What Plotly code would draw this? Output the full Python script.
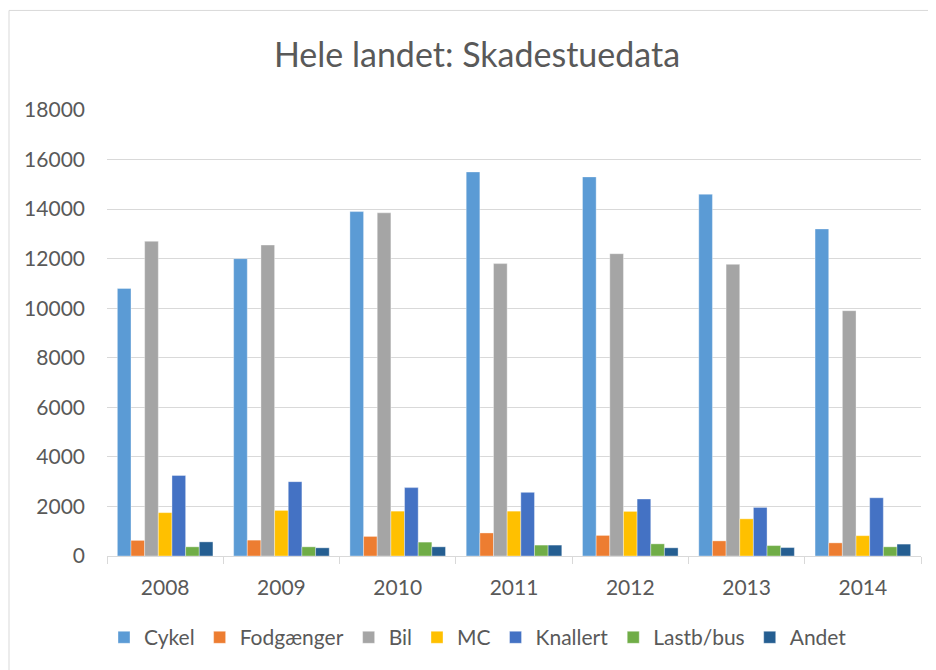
import plotly.graph_objects as go

years = ["2008", "2009", "2010", "2011", "2012", "2013", "2014"]
series_names = ["Cykel", "Fodgænger", "Bil", "MC", "Knallert", "Lastb/bus", "Andet"]
cykel = [10800, 12000, 13900, 15500, 15300, 14600, 13200]
fodgaenger = [630, 640, 790, 930, 830, 610, 530]
bil = [12700, 12550, 13850, 11800, 12200, 11770, 9900]
mc = [1750, 1840, 1810, 1810, 1800, 1500, 820]
knallert = [3250, 3000, 2760, 2570, 2300, 1960, 2350]
lastb_bus = [370, 370, 560, 440, 490, 420, 370]
andet = [570, 330, 370, 440, 330, 340, 480]
y_ticks = [0, 2000, 4000, 6000, 8000, 10000, 12000, 14000, 16000, 18000]

values = [cykel, fodgaenger, bil, mc, knallert, lastb_bus, andet]
colors = ["#5B9BD5", "#ED7D31", "#A5A5A5", "#FFC000", "#4472C4", "#70AD47", "#255E91"]

# page body has an 8px margin, so the figure is laid out 8px in from the window
OFF = 8
W, H = 936 - OFF, 670 - OFF
ml, mr, mt, mb = 107 - OFF, 15, 102, 112

fig = go.Figure()
for name, vals, col in zip(series_names, values, colors):
    fig.add_trace(go.Bar(x=years, y=vals, name=name,
                         marker=dict(color=col, line=dict(color="rgba(255,255,255,0.6)", width=0.6))))

pw = W - ml - mr
ph = H - mt - mb
def px_to_paper_x(x):
    return (x - OFF - ml) / pw
def px_to_paper_y(y):
    return (H - mb - (y - OFF)) / ph

fig.add_shape(type="rect", xref="paper", yref="paper",
              x0=px_to_paper_x(9), x1=px_to_paper_x(960),
              y0=px_to_paper_y(700), y1=px_to_paper_y(10),
              line=dict(color="#D9D9D9", width=1), fillcolor="rgba(0,0,0,0)", layer="below")

fig.update_layout(
    width=W, height=H,
    margin=dict(l=ml, r=mr, t=mt, b=mb),
    paper_bgcolor="white", plot_bgcolor="white",
    barmode="group", bargap=0.178, bargroupgap=0,
    font=dict(family="Lato, sans-serif", color="#595959"),
    title=dict(text="Hele landet: Skadestuedata", x=(477 - OFF) / W, xanchor="center",
               y=1 - (55 - OFF) / H, yanchor="middle",
               font=dict(size=34, color="#595959", family="Lato, sans-serif")),
    legend=dict(orientation="h", x=px_to_paper_x(478), xanchor="center",
                y=px_to_paper_y(640), yanchor="middle",
                font=dict(size=21, color="#595959"), itemwidth=30, traceorder="normal"),
    xaxis=dict(type="category", showline=True, linecolor="#D9D9D9", linewidth=1,
               ticks="outside", tickson="boundaries", ticklen=7, tickcolor="#D9D9D9",
               ticklabelstandoff=13,
               tickfont=dict(size=21, color="#595959"), showgrid=False),
    yaxis=dict(range=[0, 18000], tickvals=y_ticks, ticktext=[str(v) for v in y_ticks],
               showgrid=True, gridcolor="#D9D9D9", gridwidth=1, zeroline=False,
               showline=False, ticks="", ticklabelstandoff=21,
               tickfont=dict(size=21, color="#595959")),
)

fig.write_html("out.html")
